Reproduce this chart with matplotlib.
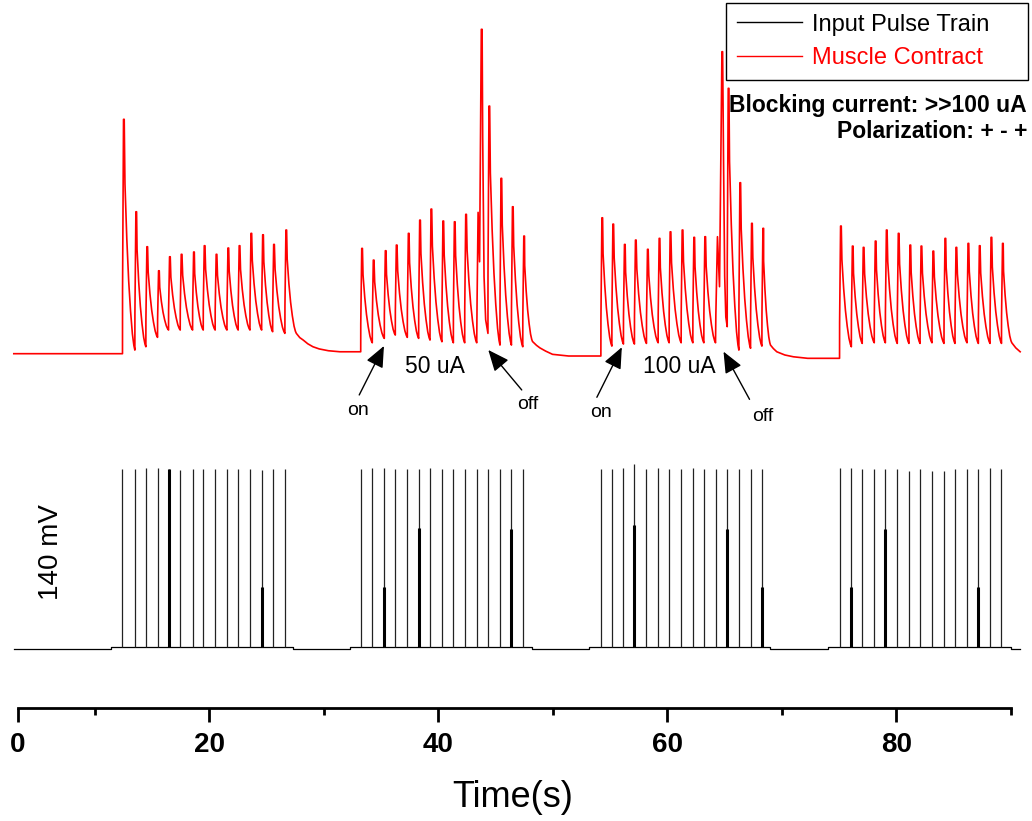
import matplotlib
matplotlib.use('Agg')
import matplotlib.pyplot as plt

plt.rcParams['font.family'] = ['Liberation Sans', 'DejaVu Sans']

# ---- 데이터 ----
# 자극 펄스 시각 (s), 버스트별
pulse_t_1 = [12.42, 13.50, 14.46, 15.48, 16.44, 17.46, 18.54, 19.47, 20.51, 21.54, 22.52, 23.55, 24.57, 25.53, 26.60]
pulse_t_2 = [33.22, 34.23, 35.28, 36.24, 37.29, 38.28, 39.27, 40.31, 41.31, 42.30, 43.35, 44.33, 45.38, 46.38, 47.37]
pulse_t_3 = [54.19, 55.15, 56.16, 57.12, 58.17, 59.19, 60.15, 61.20, 62.22, 63.18, 64.20, 65.22, 66.24, 67.26, 68.25]
pulse_t_4 = [75.03, 76.06, 77.01, 78.06, 79.03, 80.07, 81.09, 82.06, 83.10, 84.15, 85.11, 86.16, 87.15, 88.17, 89.17]

# 펄스 높이 (mV)
pulse_top_1 = [139.2, 139.2, 139.7, 139.7, 139.2, 138.4, 139.2, 139.2, 139.2, 139.2, 139.2, 139.2, 138.4, 139.2, 139.2]
pulse_top_2 = [139.0, 139.7, 139.7, 139.0, 139.0, 139.2, 139.7, 139.0, 139.0, 139.0, 139.0, 139.0, 139.0, 139.0, 139.0]
pulse_top_3 = [139.0, 139.0, 139.7, 142.9, 139.0, 139.7, 139.0, 139.0, 139.7, 139.0, 139.0, 139.0, 139.0, 139.0, 139.0]
pulse_top_4 = [139.7, 139.7, 139.0, 139.0, 139.0, 139.0, 137.9, 139.0, 137.9, 137.9, 139.0, 139.0, 139.0, 139.7, 139.0]

# 굵게 겹쳐 보이는 펄스 구간 높이 (0 = 없음)
pulse_thick_1 = [0, 0, 0, 0, 139.2, 0, 0, 0, 0, 0, 0, 0, 47.7, 0, 0]
pulse_thick_2 = [0, 0, 47.7, 0, 0, 93.6, 0, 0, 0, 0, 0, 0, 0, 92.6, 0]
pulse_thick_3 = [0, 0, 0, 95.4, 0, 0, 0, 0, 0, 0, 0, 92.6, 0, 0, 47.7]
pulse_thick_4 = [0, 47.7, 0, 0, 92.6, 0, 0, 0, 0, 0, 0, 0, 47.7, 0, 0]

# 펄스 기준선 (버스트 구간 on/off 시각, 레벨)
burst_on = [11.46, 32.28, 53.19, 73.98]
burst_off = [27.30, 48.16, 68.98, 90.0]
base_gap = -0.8
base_burst = 1.0

# 근수축 신호: 각 펄스의 피크, 다음 골 (기준선 대비)
peak_1 = [181.8, 109.9, 82.7, 64.0, 74.9, 76.8, 78.6, 83.5, 76.8, 81.7, 83.5, 93.1, 92.0, 84.5, 95.7]
peak_2 = [81.4, 72.3, 79.6, 84.0, 93.1, 103.4, 112.0, 102.7, 102.1, 107.9, 109.4, 192.1, 135.9, 113.8, 91.0]
peak_3 = [105.2, 100.3, 84.5, 87.9, 80.7, 89.2, 94.3, 95.7, 90.0, 90.5, 90.5, 205.9, 132.5, 100.9, 97.0]
peak_4 = [98.8, 83.2, 82.2, 87.1, 95.7, 93.1, 84.0, 83.2, 79.3, 89.2, 82.2, 85.3, 83.5, 90.0, 85.3]

trough_1 = [2.3, 4.9, 12.2, 17.9, 17.9, 17.9, 17.9, 17.9, 17.9, 17.9, 17.9, 17.9, 16.6, 15.3]
trough_2 = [8.0, 11.4, 14.0, 12.2, 11.4, 10.1, 8.8, 8.0, 8.0, 8.0, 15.3, 6.2, 6.2, 4.9]
trough_3 = [5.4, 7.0, 7.0, 7.5, 8.0, 8.0, 8.0, 8.0, 8.0, 8.0, 20.5, 2.3, 3.7, 5.4]
trough_4 = [4.9, 7.5, 8.0, 8.0, 7.5, 7.5, 7.5, 8.0, 7.5, 7.5, 8.0, 7.5, 7.5, 7.5]

# 버스트 전 기준선 레벨
gap_level = [-0.5, 1.0, -2.3, -4.1]

# 버스트 종료 후 꼬리 (마지막 펄스 이후 s, 진폭)
tail_1 = [(1.0, 15.3), (1.3, 12.0), (1.6, 10.1), (2.0, 7.2), (2.45, 4.9), (3.0, 3.2), (3.8, 1.8), (4.8, 1.0)]
tail_2 = [(0.85, 9.0), (1.2, 6.0), (1.5, 4.0), (2.0, 1.5), (2.6, -1.0), (4.0, -2.3)]
tail_3 = [(0.75, 6.2), (1.0, 3.5), (1.3, 1.0), (2.0, -1.5), (2.75, -2.9), (4.0, -4.1)]
tail_4 = [(0.9, 8.0), (1.25, 4.0), (1.63, 1.0)]

# 블로킹 on/off 순간의 이중 수축 (펄스 번호, (s, 진폭) 샘플)
double_2 = (10, [(0.03, 40.0), (0.12, 109.4), (0.25, 71.0), (0.4, 251.8), (0.47, 251.8),
                 (0.52, 168.2), (0.64, 59.3), (0.78, 25.9)])
double_3 = (10, [(0.03, 30.0), (0.17, 90.5), (0.35, 51.6), (0.56, 234.4), (0.62, 234.4),
                 (0.7, 150.0), (0.8, 60.0), (0.9, 28.0)])

# 단일 수축 파형 (주기 대비 위상, 남은 비율)
decay_phase = [0.2, 0.35, 0.5, 0.65, 0.8, 0.92]
decay_frac = [0.72, 0.48, 0.3, 0.17, 0.07, 0.02]

RED_BASE = 229.4
T_START = 2.93

bursts = [
    (pulse_t_1, peak_1, trough_1, tail_1, None),
    (pulse_t_2, peak_2, trough_2, tail_2, double_2),
    (pulse_t_3, peak_3, trough_3, tail_3, double_3),
    (pulse_t_4, peak_4, trough_4, tail_4, None),
]


def build_muscle():
    xs, ys = [T_START], [gap_level[0]]
    for b, (pt, pk, tr, tail, dbl) in enumerate(bursts):
        prev = gap_level[b]
        for i, t in enumerate(pt):
            last = i == len(pt) - 1
            nxt = tail[0][1] if last else tr[i]
            span = tail[0][0] if last else pt[i + 1] - t
            xs.append(t)
            ys.append(prev)
            if dbl is not None and i == dbl[0]:
                for dt, a in dbl[1]:
                    xs.append(t + dt)
                    ys.append(a)
            else:
                p = pk[i]
                for dt, a in [(0.005, prev + 0.27 * (p - prev)), (0.09, p), (0.15, p)]:
                    xs.append(t + dt)
                    ys.append(a)
                for ph, fr in zip(decay_phase, decay_frac):
                    xs.append(t + ph * span)
                    ys.append(nxt + fr * (p - nxt))
            prev = nxt
        t_last = pt[-1]
        for dt, a in tail:
            xs.append(t_last + dt)
            ys.append(a)
    return xs, [RED_BASE + y for y in ys]


def build_baseline():
    xs, ys = [T_START], [base_gap]
    for on, off in zip(burst_on, burst_off):
        xs += [on, on, off, off]
        ys += [base_gap, base_burst, base_burst, base_gap]
    xs.append(90.8)
    ys.append(base_gap)
    return xs, ys


fig = plt.figure(figsize=(10.32, 8.21), dpi=100)
ax = fig.add_axes([0.01715, 0.1376, 0.9625, 0.8624])
ax.set_xlim(3.27, 90)
ax.set_ylim(-46.7, 504)

# 입력 펄스
bx, by = build_baseline()
line_in, = ax.plot(bx, by, color='black', lw=0.9, clip_on=False, label='Input Pulse Train')
for pt, top, thick in [(pulse_t_1, pulse_top_1, pulse_thick_1), (pulse_t_2, pulse_top_2, pulse_thick_2),
                       (pulse_t_3, pulse_top_3, pulse_thick_3), (pulse_t_4, pulse_top_4, pulse_thick_4)]:
    ax.vlines(pt, base_burst, top, color='#222222', lw=0.9)
    tx = [t for t, h in zip(pt, thick) if h > 0]
    th = [h for h in thick if h > 0]
    ax.vlines(tx, base_burst, th, color='black', lw=2.2)

# 근수축
mx, my = build_muscle()
line_mc, = ax.plot(mx, my, color='#ff0000', lw=1.2, clip_on=False, label='Muscle Contract')

# 축 스타일
for s in ['left', 'top', 'right']:
    ax.spines[s].set_visible(False)
ax.spines['bottom'].set_linewidth(2)
ax.set_yticks([])
ax.set_xticks([3.27, 20, 40, 60, 80])
ax.set_xticklabels(['0', '20', '40', '60', '80'])
ax.set_xticks([10, 30, 50, 70, 90], minor=True)
ax.tick_params(axis='x', which='major', length=10, width=2, direction='out', labelsize=20, pad=7)
ax.tick_params(axis='x', which='minor', length=5, width=2, direction='out')
for lbl in ax.get_xticklabels():
    lbl.set_fontweight('bold')
ax.set_xlabel('Time(s)', fontsize=26)
ax.xaxis.set_label_coords(0.4986, -0.1257)
ax.xaxis.label.set_verticalalignment('center')

# 스케일 라벨
ax.text(6.16, 74.7, '140 mV', rotation=90, fontsize=20, ha='center', va='center')

# 주석 (on/off 화살표)
arrow_kw = dict(arrowstyle='-|>,head_length=0.65,head_width=0.28', color='black', lw=1,
                shrinkA=0, shrinkB=0, mutation_scale=20)
for head, tail in [((35.25, 234.9), (33.09, 196.8)), ((44.36, 231.8), (47.28, 200.7)),
                   ((56.02, 233.9), (53.84, 195.0)), ((64.90, 230.5), (67.17, 193.4))]:
    ax.annotate('', xy=head, xytext=tail, arrowprops=arrow_kw)
ax.text(32.94, 185.1, 'on', fontsize=14, ha='center', va='center')
ax.text(47.79, 189.0, 'off', fontsize=14, ha='center', va='center')
ax.text(54.19, 182.8, 'on', fontsize=14, ha='center', va='center')
ax.text(68.32, 179.7, 'off', fontsize=14, ha='center', va='center')
ax.text(39.66, 218.6, '50 uA', fontsize=16.5, ha='center', va='center')
ax.text(61.03, 218.6, '100 uA', fontsize=16.5, ha='center', va='center')

# 범례
leg = fig.legend([line_in, line_mc], ['Input Pulse Train', 'Muscle Contract'],
                 loc='upper left', bbox_to_anchor=(726 / 1032, 1 - 83 / 821, 302 / 1032, 80 / 821),
                 mode='expand', borderaxespad=0, fontsize=17, frameon=True, fancybox=False,
                 edgecolor='black', framealpha=1, handlelength=2.75, handletextpad=0.45,
                 labelspacing=0.5, borderpad=0.45)
leg.get_frame().set_linewidth(1.0)
for h in leg.get_lines():
    h.set_linewidth(1.0)
leg.get_texts()[1].set_color('#ff0000')

fig.text(0.9952, 1 - 111.7 / 821, 'Blocking current: >>100 uA', fontsize=16.5, fontweight='bold',
         ha='right', va='baseline')
fig.text(0.9952, 1 - 138.3 / 821, 'Polarization: + - +', fontsize=16.5, fontweight='bold',
         ha='right', va='baseline')

fig.savefig('out.png', dpi=100)
